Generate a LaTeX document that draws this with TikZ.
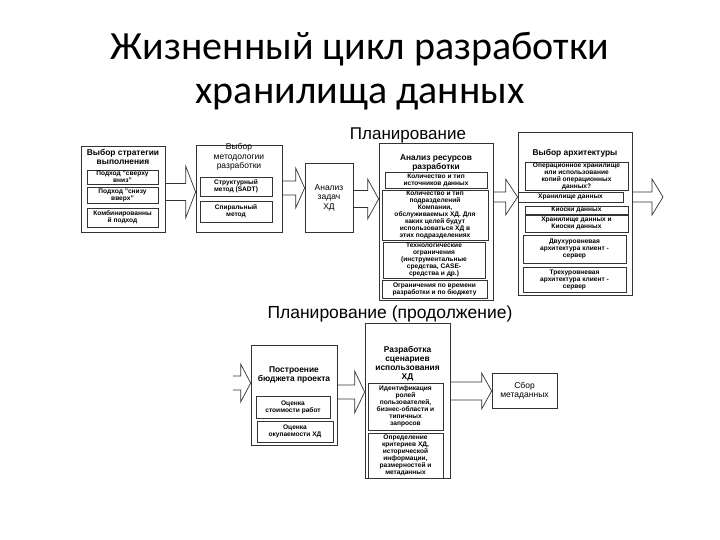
\documentclass[tikz,border=0pt]{standalone}
\usepackage{fontspec}
\setmainfont{Liberation Sans}
\newfontfamily\titlefont{Carlito}
\usetikzlibrary{calc}
\tikzset{
  box/.style={draw=black!80, fill=white, line width=0.7pt},
  inbox/.style={draw=black!80, fill=white, line width=0.6pt, align=center,
    inner sep=0pt, font=\fontsize{6.6}{7}\selectfont\bfseries},
  boxhead/.style={align=center, inner sep=0pt, font=\fontsize{8.4}{9}\selectfont\bfseries},
  boxtext/.style={align=center, inner sep=0pt, font=\fontsize{8.5}{9.5}\selectfont},
  sz/.style 2 args={minimum width=#1pt, minimum height=#2pt},
  arrowline/.style={draw=black!80, line width=0.7pt, line join=miter},
}
% block arrow: from, to, axis y, half shaft, half head, head length
\newcommand{\flowarrow}[6]{%
  \coordinate (fa-s) at (#1 |- 0,#3);
  \coordinate (fa-t) at (#2 |- 0,#3);
  \draw[arrowline] ($(fa-s)+(0,-#4)$) -- ($(fa-t)+(-#6,-#4)$) -- ($(fa-t)+(-#6,-#5)$)
    -- (fa-t) -- ($(fa-t)+(-#6,#5)$) -- ($(fa-t)+(-#6,#4)$) -- ($(fa-s)+(0,#4)$);}
\begin{document}
\begin{tikzpicture}[x=1pt,y=-1pt]
  \fill[white] (0,0) rectangle (720,540);
  \useasboundingbox (0,0) rectangle (720,540);
  % title
  \node[anchor=base, font=\titlefont\fontsize{40}{48}\selectfont] (title1) at (360,60) {Жизненный цикл разработки};
  \node[anchor=base, font=\titlefont\fontsize{40}{48}\selectfont] (title2) at (360,104) {хранилища данных};
  \node[font=\fontsize{17}{18}\selectfont] (plan1) at (408,135) {Планирование};
  \node[font=\fontsize{17.5}{19}\selectfont] (plan2) at (390,314) {Планирование (продолжение)};

  % strategy
  \node[box, sz={84}{86}] (strat) at (123,189) {};
  \node[boxhead] (strat-t) at (123,157) {Выбор стратегии\\выполнения};
  \node[inbox, sz={71}{14}] (topdown) at (122.5,177) {Подход "сверху\\вниз"};
  \node[inbox, sz={71}{16}] (bottomup) at (122.5,195) {Подход "снизу\\вверх"};
  \node[inbox, sz={71}{19}] (combined) at (122.5,217.5) {Комбинированны\\й подход};

  % methodology
  \node[box, sz={86}{87}] (meth) at (239,188.5) {};
  \node[boxtext] (meth-t) at (239,157) {Выбор\\методологии\\разработки};
  \node[inbox, sz={72}{19}] (sadt) at (236,186.5) {Структурный\\метод (SADT)};
  \node[inbox, sz={72}{21}] (spiral) at (236,211.5) {Спиральный\\метод};

  % tasks
  \node[box, sz={48}{69}, boxtext] (task) at (329,197.5) {Анализ\\задач\\ХД};

  % resources
  \node[box, sz={114}{157}] (res) at (436,221.5) {};
  \node[boxhead] (res-t) at (436,163) {Анализ ресурсов\\разработки};
  \node[inbox, sz={102}{16}] (sources) at (436,180) {Количество и тип\\источников данных};
  \node[inbox, sz={106}{50}] (depts) at (435,215) {Количество и тип\\подразделений\\Компании,\\обслуживаемых ХД. Для\\каких целей будут\\использоваться ХД в\\этих подразделениях};
  \node[inbox, sz={102}{36}] (tech) at (434,260) {Технологические\\ограничения\\(инструментальные\\средства, CASE-\\средства и др.)};
  \node[inbox, sz={105}{18}] (limits) at (434.5,289) {Ограничения по времени\\разработки и по бюджету};

  % architecture
  \node[box, sz={114}{163}] (arch) at (575,213.5) {};
  \node[boxhead] (arch-t) at (575,153) {Выбор архитектуры};
  \node[inbox, sz={103}{28}] (ods) at (576.5,176) {Операционное хранилище\\или использование\\копий операционных\\данных?};
  \node[inbox, sz={105}{10}] (dwh) at (570.5,197) {Хранилище данных};
  \node[inbox, sz={103}{8}] (marts) at (576.5,210) {Киоски данных};
  \node[inbox, sz={103}{17}] (both) at (576.5,223.5) {Хранилище данных и\\Киоски данных};
  \node[inbox, sz={103}{28}] (twotier) at (574.5,249) {Двухуровневая\\архитектура клиент -\\сервер};
  \node[inbox, sz={103}{25}] (threetier) at (574.5,279.5) {Трехуровневая\\архитектура клиент -\\сервер};
  \coordinate (out1) at (663,197);

  % budget
  \coordinate (in2) at (233,383);
  \node[box, sz={86}{100}] (budget) at (294,395) {};
  \node[boxhead] (budget-t) at (294,375) {Построение\\бюджета проекта};
  \node[inbox, sz={74}{22}] (cost) at (293,407) {Оценка\\стоимости работ};
  \node[inbox, sz={76}{21}] (payback) at (295,431.5) {Оценка\\окупаемости ХД};

  % scenarios
  \node[box, sz={85}{155}] (scen) at (407.5,400.5) {};
  \node[boxhead] (scen-t) at (407.5,364) {Разработка\\сценариев\\использования\\ХД};
  \node[inbox, sz={75}{47}] (roles) at (405.5,406.5) {Идентификация\\ролей\\пользователей,\\бизнес-области и\\типичных\\запросов};
  \node[inbox, sz={75}{45}] (criteria) at (405.5,455.5) {Определение\\критериев ХД,\\исторической\\информации,\\размерностей и\\метаданных};

  % metadata
  \node[box, sz={65}{35}, boxtext] (meta) at (524.5,390.5) {Сбор\\метаданных};

  % arrows
  \flowarrow{strat.east}{meth.west}{192}{8.5}{26}{10}
  \flowarrow{meth.east}{task.west}{188}{7}{20}{9}
  \flowarrow{task.east}{res.west}{199}{8.5}{20}{11}
  \flowarrow{res.east}{arch.west}{197}{5}{18}{12}
  \flowarrow{arch.east}{out1}{197}{5}{18}{11}
  \flowarrow{in2}{budget.west}{383}{7}{19}{10}
  \flowarrow{budget.east}{scen.west}{392}{7}{21}{10}
  \flowarrow{scen.east}{meta.west}{391}{9}{18}{10}
\end{tikzpicture}
\end{document}
